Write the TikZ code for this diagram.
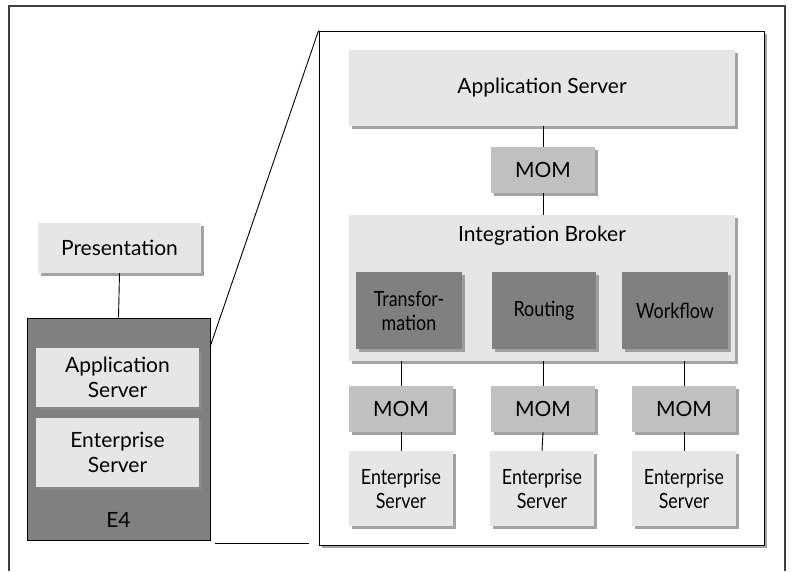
\documentclass[tikz,border=0pt]{standalone}
\usepackage{fontspec}
\setmainfont{Lato}
\newfontfamily\condfont[FakeStretch=0.85]{Lato}
\usetikzlibrary{shadows}

\definecolor{boxlight}{HTML}{E6E6E6}
\definecolor{boxmid}{HTML}{C0C0C0}
\definecolor{boxdark}{HTML}{808080}
\definecolor{boxshade}{HTML}{8C8C8C}

\tikzset{
  shade/.style={drop shadow={shadow xshift=3pt, shadow yshift=-3pt, fill=boxshade, opacity=0.8}},
  tier/.style={shade, fill=boxlight, inner sep=0pt, align=center,
    font=\fontsize{21}{25}\selectfont},
  mom/.style={tier, fill=boxmid, minimum width=104pt, minimum height=46pt},
  module/.style={tier, fill=boxdark, minimum width=106pt, minimum height=77pt,
    font=\condfont\fontsize{21}{24}\selectfont},
  ent/.style={tier, minimum width=104pt, minimum height=75pt,
    font=\condfont\fontsize{21}{24}\selectfont},
  link/.style={line width=0.9pt}
}

\begin{document}
\begin{tikzpicture}[x=1pt, y=-1pt]
\useasboundingbox (0,0) rectangle (792,571);
% outer frame, open at the bottom
\draw[line width=1.3pt, black!75] (9,571) -- (9,6) -- (785,6) -- (785,571);

% left: the E4 stack
\node[tier, minimum width=163pt, minimum height=50pt] (pres) at (119.5,248) {Presentation};
\node[draw=black, line width=0.9pt, fill=boxdark, minimum width=183pt, minimum height=222pt] (e4) at (118.5,429) {};
\node[tier, minimum width=163pt, minimum height=59pt] (appl) at (117.5,377.5) {Application\\Server};
\node[tier, minimum width=163pt, minimum height=69pt] (entl) at (117.5,452.5) {Enterprise\\Server};
\node[font=\fontsize{21}{25}\selectfont] (e4lbl) at (118.5,520) {E4};
\draw[link] (pres.south) -- (e4.north);

% right: zoomed view
\node[shade, draw=black, line width=0.9pt, fill=white, minimum width=445pt, minimum height=514pt] (zoom) at (541.5,288) {};
\coordinate (tip) at (210,347);
\coordinate (base) at (215,543);
\draw[link] (zoom.north west) -- (tip);
\draw[link] (base) -- ([xshift=-10pt]base -| zoom.west);

\node[tier, minimum width=386pt, minimum height=76pt] (apps) at (542,88) {Application Server};
\node[mom] (momt) at (543,170) {MOM};
\node[tier, minimum width=386pt, minimum height=146pt] (broker) at (542,288) {};
\node[font=\fontsize{21}{25}\selectfont] (brokerlbl) at (542,236) {Integration Broker};
\node[module] (trans) at (409,310.5) {Transfor-\\mation};
\node[module, minimum width=104pt] (route) at (544,310.5) {Routing};
\node[module] (flow) at (675,310.5) {Workflow};

\node[mom] (mom1) at (401,409) {MOM};
\node[mom] (mom2) at (543,409) {MOM};
\node[mom] (mom3) at (684,409) {MOM};
\node[ent] (es1) at (401,488.5) {Enterprise\\Server};
\node[ent] (es2) at (542,488.5) {Enterprise\\Server};
\node[ent] (es3) at (684,488.5) {Enterprise\\Server};

\draw[link] (momt.north) -- (momt.north |- apps.south);
\draw[link] (momt.south) -- (momt.south |- broker.north);
\foreach \m/\e in {mom1/es1, mom2/es2, mom3/es3}{
  \draw[link] (\m.north |- broker.south) -- (\m.north);
  \draw[link] (\m.south) -- (\e.north);
}
\end{tikzpicture}
\end{document}
